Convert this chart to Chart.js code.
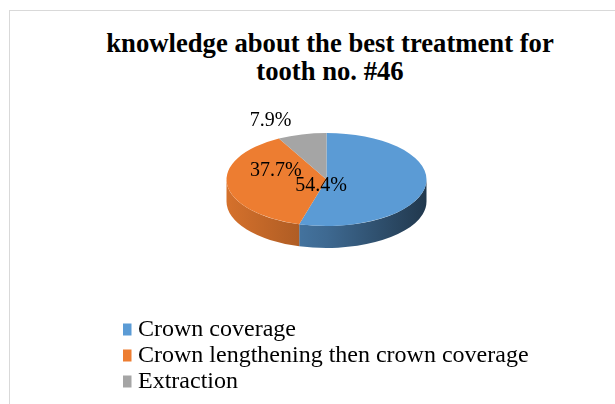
<!DOCTYPE html>
<html>
<head>
<meta charset="utf-8">
<script src="https://cdn.jsdelivr.net/npm/chart.js@4/dist/chart.umd.min.js"></script>
<style>
  html, body { margin: 0; padding: 0; width: 615px; height: 404px; overflow: hidden; background: #fff; }
  #frame { position: absolute; left: 9px; top: 10px; width: 620px; height: 400px;
           border-left: 1px solid #d9d9d9; border-top: 1px solid #d9d9d9; }
  #title { position: absolute; left: 0; top: 28.7px; width: 660px; text-align: center;
           font: bold 26.67px/28px 'Liberation Serif', 'Times New Roman', serif; color: #000; white-space: nowrap; }
  #c { position: absolute; left: 0; top: 0; }
</style>
</head>
<body>
<div id="frame"></div>
<div id="title"></div>
<canvas id="c" width="615" height="404"></canvas>
<script>
// ---- data ----
const titleLines = ['knowledge about the best treatment for', 'tooth no. #46'];
const categories = ['Crown coverage', 'Crown lengthening then crown coverage', 'Extraction'];
const percentages = [54.4, 37.7, 7.9];
const sliceColors = ['#5b9bd5', '#ed7d31', '#a5a5a5'];

// ---- title (real text) ----
document.getElementById('title').innerHTML = titleLines.map(t => t.replace(/&/g, '&amp;').replace(/</g, '&lt;')).join('<br>');

// ---- helpers ----
function rgbOf(hex) { const n = parseInt(hex.slice(1), 16); return [(n >> 16) & 255, (n >> 8) & 255, n & 255]; }
function shade(hex, f) { return 'rgb(' + rgbOf(hex).map(v => Math.round(v * f)).join(',') + ')'; }

// 3D tilted pie: draws the side wall, then the library's arcs squashed vertically
const pie3d = {
  id: 'pie3d',
  beforeDatasetDraw(chart, args, opts) {
    const arcs = args.meta.data;
    if (!arcs.length) return;
    const ctx = chart.ctx;
    const cx = arcs[0].x, cy = arcs[0].y, R = arcs[0].outerRadius;
    const ry = R * opts.tilt, d = opts.depth;
    arcs.forEach(arc => {
      const color = arc.options.backgroundColor;
      for (let k = -1; k <= 1; k++) {
        const lo = Math.max(arc.startAngle, 2 * Math.PI * k);
        const hi = Math.min(arc.endAngle, 2 * Math.PI * k + Math.PI);
        if (hi <= lo) continue;
        const g = ctx.createLinearGradient(cx - R, 0, cx + R, 0);
        opts.wallShade.forEach(s => g.addColorStop(s[0], shade(color, s[1])));
        ctx.save();
        ctx.beginPath();
        ctx.ellipse(cx, cy, R, ry, 0, lo, hi, false);
        ctx.lineTo(cx + R * Math.cos(hi), cy + ry * Math.sin(hi) + d);
        ctx.ellipse(cx, cy + d, R, ry, 0, hi, lo, true);
        ctx.closePath();
        ctx.fillStyle = g;
        ctx.fill();
        ctx.restore();
      }
    });
    ctx.save();
    ctx.translate(cx, cy);
    ctx.scale(1, opts.tilt);
    ctx.translate(-cx, -cy);
    arcs.forEach(a => a.draw(ctx));
    ctx.restore();
    return false;
  },
  afterDatasetsDraw(chart, args, opts) {
    const meta = chart.getDatasetMeta(0);
    const data = chart.data.datasets[0].data;
    const total = data.reduce((a, b) => a + b, 0);
    const ctx = chart.ctx;
    ctx.save();
    ctx.font = opts.labelFont;
    ctx.fillStyle = opts.labelColor;
    ctx.textAlign = 'center';
    ctx.textBaseline = 'middle';
    meta.data.forEach((arc, i) => {
      const mid = (arc.startAngle + arc.endAngle) / 2;
      const r = arc.outerRadius * opts.labelRadius[i];
      const sh = opts.labelShift[i];
      const x = arc.x + r * Math.cos(mid) + sh[0];
      const y = arc.y + r * opts.tilt * Math.sin(mid) + sh[1];
      ctx.fillText((data[i] / total * 100).toFixed(1) + '%', x, y);
    });
    ctx.restore();
  }
};

new Chart(document.getElementById('c'), {
  type: 'pie',
  data: {
    labels: categories,
    datasets: [{
      data: percentages,
      backgroundColor: sliceColors,
      borderWidth: 0
    }]
  },
  plugins: [pie3d],
  options: {
    responsive: false,
    animation: false,
    events: [],
    radius: 100,
    layout: { padding: { left: 123, right: 85, top: 43.5, bottom: 0.5 } },
    plugins: {
      title: { display: false },
      tooltip: { enabled: false },
      legend: {
        display: true,
        position: 'bottom',
        align: 'start',
        labels: {
          boxWidth: 1,
          boxHeight: 1,
          padding: 2,
          color: '#000',
          font: { family: "'Liberation Serif', 'Times New Roman', serif", size: 24, lineHeight: 1 },
          generateLabels(chart) {
            const ds = chart.data.datasets[0];
            return chart.data.labels.map((text, i) => ({
              text, fillStyle: ds.backgroundColor[i], strokeStyle: ds.backgroundColor[i],
              lineWidth: 11, hidden: false, index: i, fontColor: '#000'
            }));
          }
        }
      },
      pie3d: {
        tilt: 0.465,
        depth: 22,
        wallShade: [[0, 0.9], [0.5, 0.68], [1, 0.36]],
        labelFont: "20px 'Liberation Serif', 'Times New Roman', serif",
        labelColor: '#000',
        labelRadius: [0, 0.5, 1.3],
        labelShift: [[-5.5, 6.5], [-1, -11.5], [-24, 0]]
      }
    }
  }
});
</script>
</body>
</html>
